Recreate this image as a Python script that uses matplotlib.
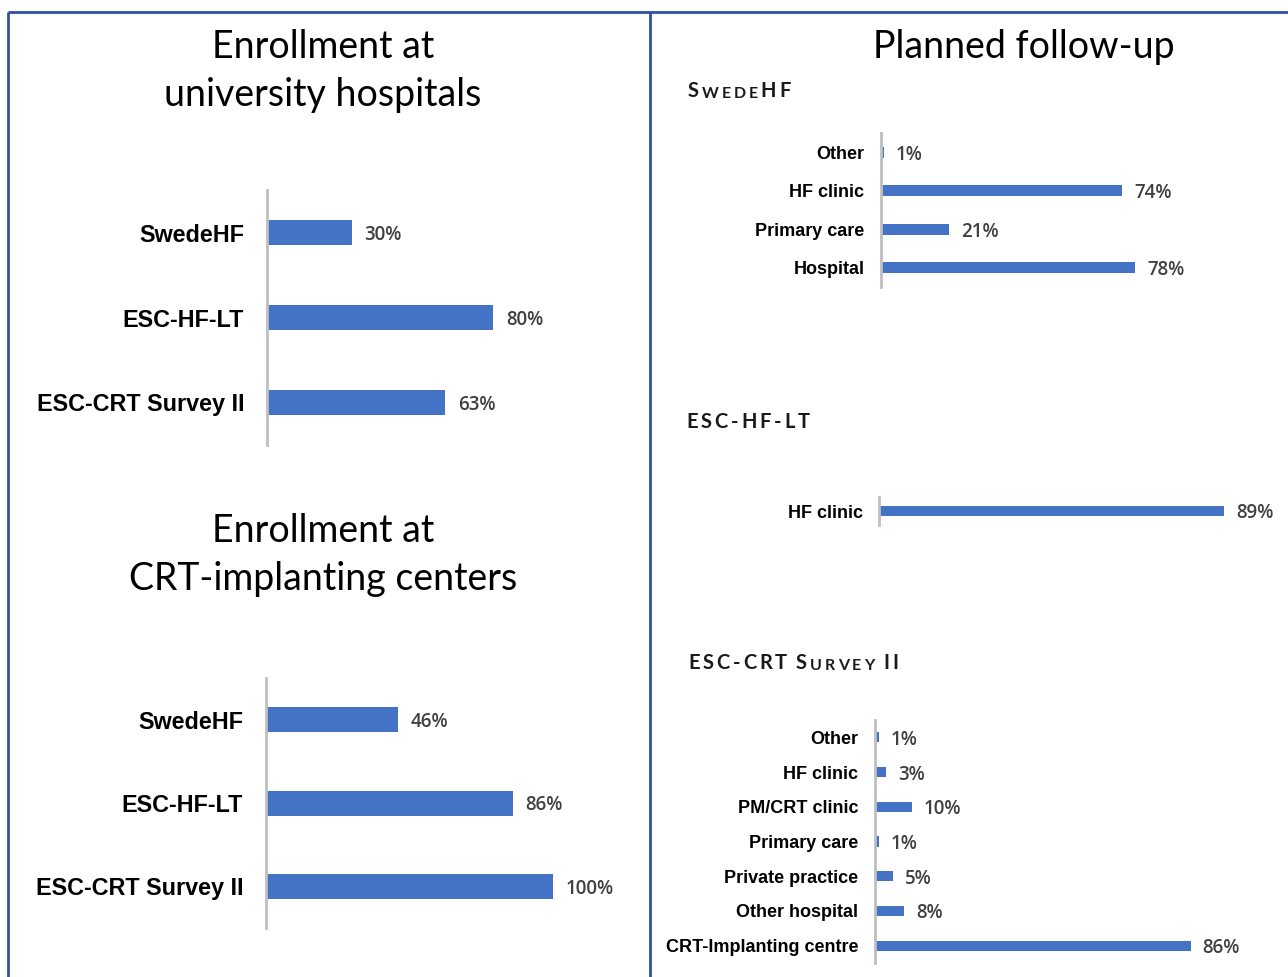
import matplotlib
matplotlib.use('Agg')
import matplotlib.pyplot as plt
from matplotlib.lines import Line2D

# ---------------- data ----------------
enroll_uni_labels = ['SwedeHF', 'ESC-HF-LT', 'ESC-CRT Survey II']
enroll_uni_values = [30, 80, 63]
enroll_crt_labels = ['SwedeHF', 'ESC-HF-LT', 'ESC-CRT Survey II']
enroll_crt_values = [46, 86, 100]
swedehf_fu_labels = ['Other', 'HF clinic', 'Primary care', 'Hospital']
swedehf_fu_values = [1, 74, 21, 78]
eschflt_fu_labels = ['HF clinic']
eschflt_fu_values = [89]
esccrt_fu_labels = ['Other', 'HF clinic', 'PM/CRT clinic', 'Primary care',
                    'Private practice', 'Other hospital', 'CRT-Implanting centre']
esccrt_fu_values = [1, 3, 10, 1, 5, 8, 86]

# ---------------- style ----------------
W, H = 1288, 977
BLUE = '#4472C4'
BORDER = '#2F52A0'
AXGRAY = '#BFBFBF'
VALCOL = '#404040'
TITLE_FONT = 'Lato'

fig = plt.figure(figsize=(W / 100, H / 100), dpi=100)
fig.patch.set_facecolor('white')

bg = fig.add_axes([0, 0, 1, 1])
bg.set_xlim(0, W)
bg.set_ylim(H, 0)
bg.axis('off')

# panel borders
for xs, ys in [((8, W), (12, 12)), ((8, 8), (12, H)), ((650, 650), (12, H))]:
    bg.add_line(Line2D(xs, ys, color=BORDER, lw=2.0, solid_capstyle='butt'))

# titles
def title(x, y, s):
    bg.text(x, y, s, ha='center', va='baseline', fontsize=27,
            fontfamily=TITLE_FONT, color='black')

title(323, 58, 'Enrollment at')
title(323, 106, 'university hospitals')
title(323, 542, 'Enrollment at')
title(323, 590, 'CRT-implanting centers')
title(1024, 58, 'Planned follow-up')


def spaced(x, y, segments, spacing_pt=2.1):
    """Letter-spaced (small caps) header drawn char by char."""
    prev = None
    extra = 0.0
    for text, fs in segments:
        for ch in text:
            if ch == ' ':
                extra += fs * 0.3
                continue
            kw = dict(fontsize=fs, fontfamily=TITLE_FONT, fontweight='bold',
                      color='#1a1a1a', ha='left')
            if prev is None:
                prev = bg.text(x, y, ch, va='baseline', **kw)
            else:
                prev = bg.annotate(ch, xy=(1, 0), xycoords=prev,
                                   xytext=(spacing_pt + extra, 0),
                                   textcoords='offset points', va='bottom', **kw)
            extra = 0.0


BIG, SMALL = 14.5, 11.5
spaced(688, 97, [('S', BIG), ('WEDE', SMALL), ('HF', BIG)])
spaced(686, 428, [('ESC-HF-LT', BIG)])
spaced(688, 669, [('ESC-CRT ', BIG), ('S', BIG), ('URVEY', SMALL), (' II', BIG)])


def px_axes(x0, y0, x1, y1):
    return fig.add_axes([x0 / W, 1 - y1 / H, (x1 - x0) / W, (y1 - y0) / H])


def barchart(box, labels, values, bar_h, label_fs, val_fs, label_pad, val_pad):
    ax = px_axes(*box)
    n = len(labels)
    pos = list(range(n))
    ax.barh(pos, values, height=bar_h, color=BLUE, edgecolor='none')
    ax.set_xlim(0, 100)
    ax.set_ylim(n - 0.5, -0.5)
    ax.set_yticks(pos)
    ax.set_yticklabels(labels, fontfamily='Liberation Sans', fontweight='bold',
                       fontsize=label_fs, color='black')
    ax.tick_params(axis='y', length=0, pad=label_pad)
    ax.set_xticks([])
    for s in ['top', 'right', 'bottom']:
        ax.spines[s].set_visible(False)
    ax.spines['left'].set_color(AXGRAY)
    ax.spines['left'].set_linewidth(2.0)
    ax.patch.set_alpha(0)
    for p, v in zip(pos, values):
        ax.annotate(f'{v}%', xy=(v, p), xytext=(val_pad, 0),
                    textcoords='offset points', va='center_baseline', ha='left',
                    fontsize=val_fs, fontfamily='Open Sans', fontweight='semibold',
                    color=VALCOL)
    return ax


# left panel
barchart((267, 190, 267 + 283, 445), enroll_uni_labels, enroll_uni_values,
         0.30, 16.8, 13.5, 16.5, 9)
barchart((266, 678, 266 + 287, 928), enroll_crt_labels, enroll_crt_values,
         0.30, 16.8, 13.5, 16.5, 9)

# right panel
barchart((881, 133, 881 + 326, 287), swedehf_fu_labels, swedehf_fu_values,
         0.29, 13, 13.5, 12, 8.5)
barchart((879, 497, 879 + 388, 525), eschflt_fu_labels, eschflt_fu_values,
         0.36, 13, 13.5, 11.5, 8.5)
barchart((875, 720, 875 + 367, 963), esccrt_fu_labels, esccrt_fu_values,
         0.29, 13, 13.5, 12, 8.5)

fig.savefig('out.png', dpi=100, facecolor='white')
